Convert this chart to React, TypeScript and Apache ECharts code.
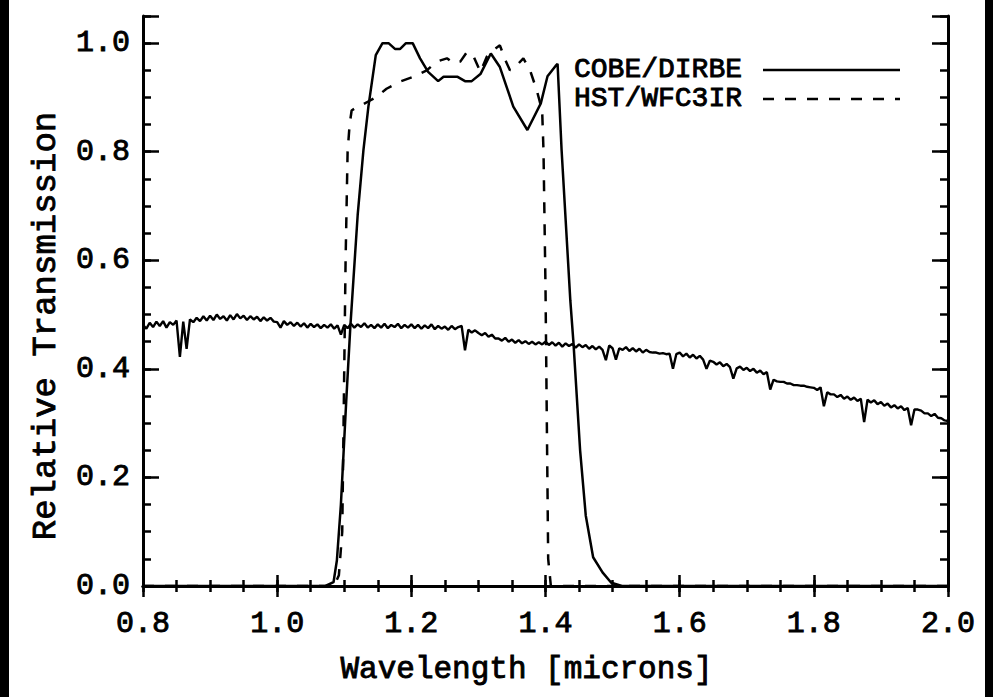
import React, { useEffect, useRef } from "react";
import * as echarts from "echarts";

// Sky spectrum (solid, noisy) sampled every 0.005 micron from 0.80 to 2.00
const specStart = 0.8;
const specStep = 0.005;
const specFlux = [
  0.481, 0.474, 0.485, 0.477, 0.487, 0.479, 0.488, 0.476, 0.486, 0.481, 0.489, 0.422, 0.487, 0.437, 0.491, 0.486, 0.494, 0.488, 0.497, 0.489,
  0.498, 0.490, 0.500, 0.492, 0.497, 0.489, 0.499, 0.491, 0.501, 0.493, 0.498, 0.490, 0.497, 0.491, 0.496, 0.488, 0.495, 0.489, 0.494, 0.487,
  0.486, 0.476, 0.488, 0.481, 0.486, 0.479, 0.485, 0.478, 0.484, 0.476, 0.483, 0.477, 0.482, 0.475, 0.481, 0.476, 0.482, 0.474, 0.480, 0.463,
  0.481, 0.475, 0.483, 0.476, 0.482, 0.477, 0.484, 0.476, 0.481, 0.475, 0.482, 0.476, 0.483, 0.475, 0.481, 0.477, 0.483, 0.475, 0.481, 0.476,
  0.482, 0.475, 0.481, 0.474, 0.480, 0.475, 0.482, 0.473, 0.479, 0.474, 0.478, 0.472, 0.479, 0.473, 0.477, 0.479, 0.434, 0.472, 0.467, 0.471,
  0.466, 0.462, 0.466, 0.459, 0.463, 0.456, 0.456, 0.452, 0.457, 0.450, 0.454, 0.448, 0.453, 0.447, 0.451, 0.446, 0.450, 0.445, 0.449, 0.445,
  0.450, 0.444, 0.449, 0.443, 0.448, 0.441, 0.447, 0.442, 0.446, 0.439, 0.445, 0.440, 0.444, 0.437, 0.442, 0.436, 0.441, 0.435, 0.416, 0.443,
  0.438, 0.417, 0.438, 0.435, 0.440, 0.433, 0.438, 0.432, 0.437, 0.430, 0.435, 0.431, 0.430, 0.430, 0.428, 0.429, 0.427, 0.428, 0.400, 0.427,
  0.430, 0.423, 0.428, 0.421, 0.426, 0.419, 0.424, 0.417, 0.400, 0.415, 0.413, 0.408, 0.412, 0.405, 0.409, 0.403, 0.382, 0.401, 0.404, 0.398,
  0.402, 0.396, 0.400, 0.393, 0.397, 0.390, 0.394, 0.362, 0.380, 0.377, 0.376, 0.376, 0.373, 0.373, 0.370, 0.370, 0.369, 0.369, 0.367, 0.366,
  0.365, 0.361, 0.366, 0.331, 0.357, 0.353, 0.353, 0.348, 0.352, 0.345, 0.349, 0.343, 0.347, 0.341, 0.345, 0.302, 0.343, 0.338, 0.342, 0.335,
  0.339, 0.332, 0.336, 0.329, 0.333, 0.327, 0.331, 0.324, 0.328, 0.296, 0.325, 0.325, 0.323, 0.318, 0.318, 0.313, 0.317, 0.310, 0.309, 0.305,
  0.304,
];

// COBE/DIRBE filter (solid)
const cobeWave = [0.8, 1.072, 1.084, 1.089, 1.095, 1.103, 1.109, 1.1136, 1.12, 1.1286, 1.136, 1.147, 1.157, 1.166, 1.176, 1.183, 1.192, 1.202, 1.213, 1.225, 1.24, 1.248, 1.269, 1.28, 1.29, 1.303, 1.3185, 1.332, 1.352, 1.373, 1.393, 1.403, 1.415, 1.418, 1.424, 1.437, 1.4418, 1.4516, 1.46, 1.471, 1.485, 1.498, 1.514, 2.0];
const cobeTrans = [0, 0, 0.007, 0.047, 0.15, 0.342, 0.476, 0.563, 0.683, 0.803, 0.883, 0.978, 1.0, 1.0, 0.989, 0.989, 1.0, 1.0, 0.972, 0.947, 0.93, 0.938, 0.938, 0.93, 0.93, 0.943, 0.981, 0.956, 0.883, 0.84, 0.889, 0.939, 0.958, 0.962, 0.803, 0.526, 0.446, 0.25, 0.13, 0.053, 0.025, 0.006, 0, 0];

// HST/WFC3IR filter (dashed)
const hstWave = [0.8, 1.085, 1.092, 1.097, 1.099, 1.1005, 1.102, 1.105, 1.108, 1.111, 1.116, 1.125, 1.135, 1.148, 1.163, 1.183, 1.203, 1.223, 1.238, 1.253, 1.263, 1.273, 1.283, 1.293, 1.303, 1.3125, 1.322, 1.332, 1.34, 1.347, 1.357, 1.367, 1.377, 1.387, 1.395, 1.397, 1.4, 1.402, 1.404, 1.408, 2.0];
const hstTrans = [0, 0, 0.02, 0.1, 0.3, 0.45, 0.6, 0.8, 0.85, 0.876, 0.88, 0.885, 0.892, 0.901, 0.916, 0.929, 0.938, 0.95, 0.966, 0.972, 0.963, 0.966, 0.984, 0.975, 0.947, 0.975, 0.987, 0.996, 0.969, 0.95, 0.959, 0.972, 0.95, 0.913, 0.876, 0.803, 0.55, 0.3, 0.05, 0, 0];

const legendNames = ["COBE/DIRBE", "HST/WFC3IR"];
const xTitle = "Wavelength [microns]";
const yTitle = "Relative Transmission";

const FONT = '"Liberation Mono", monospace';

export default function App() {
  const ref = useRef<HTMLDivElement>(null);
  useEffect(() => {
    if (!ref.current) return;
    const chart = echarts.init(ref.current, null, { renderer: "svg" });
    const spec = specFlux.map((v, i) => [+(specStart + i * specStep).toFixed(3), v]);
    const cobe = cobeWave.map((w, i) => [w, cobeTrans[i]]);
    const hst = hstWave.map((w, i) => [w, hstTrans[i]]);

    const txt = { fontFamily: FONT, color: "#000", textBorderColor: "#000", textBorderWidth: 0.9 };
    const lbl = { ...txt, fontSize: 30 };
    const line = { show: true, lineStyle: { color: "#000", width: 3 } };
    const xBase = { type: "value" as const, min: 0.8, max: 2.0, splitLine: { show: false }, gridIndex: 0 };
    const yBase = { type: "value" as const, min: 0, max: 1.05, splitLine: { show: false }, gridIndex: 0 };
    const tick = (len: number) => ({ show: true, inside: true, length: len, lineStyle: { color: "#000", width: 2.5 } });

    chart.setOption({
      animation: false,
      backgroundColor: "transparent",
      grid: { left: 143, top: 16, width: 805, height: 570, containLabel: false },
      xAxis: [
        {
          ...xBase, position: "bottom", interval: 0.2, axisLine: line, axisTick: tick(11),
          axisLabel: { ...lbl, margin: 23, formatter: (v: number) => v.toFixed(1) },
          name: xTitle, nameLocation: "middle", nameGap: 68,
          nameTextStyle: { ...txt, fontSize: 31, padding: [0, 38, 0, 0] },
        },
        { ...xBase, position: "bottom", interval: 0.05, axisLine: { show: false }, axisTick: tick(6), axisLabel: { show: false } },
        { ...xBase, position: "top", interval: 0.2, axisLine: line, axisTick: tick(11), axisLabel: { show: false } },
        { ...xBase, position: "top", interval: 0.05, axisLine: { show: false }, axisTick: tick(6), axisLabel: { show: false } },
      ],
      yAxis: [
        {
          ...yBase, position: "left", interval: 0.2, axisLine: line, axisTick: tick(16),
          axisLabel: { ...lbl, margin: 13, formatter: (v: number) => (v > 1.01 ? "" : v.toFixed(1)) },
          name: yTitle, nameLocation: "middle", nameGap: 80,
          nameTextStyle: { ...txt, fontSize: 34, padding: [0, 50, 0, 0] },
        },
        { ...yBase, position: "left", interval: 0.05, axisLine: { show: false }, axisTick: tick(8), axisLabel: { show: false } },
        { ...yBase, position: "right", interval: 0.2, axisLine: line, axisTick: tick(16), axisLabel: { show: false } },
        { ...yBase, position: "right", interval: 0.05, axisLine: { show: false }, axisTick: tick(8), axisLabel: { show: false } },
      ],
      series: [
        { name: "spectrum", type: "line", data: spec, symbol: "none", lineStyle: { color: "#000", width: 2.4 }, silent: true },
        { name: legendNames[0], type: "line", data: cobe, symbol: "none", lineStyle: { color: "#000", width: 2.5 }, silent: true },
        { name: legendNames[1], type: "line", data: hst, symbol: "none", lineStyle: { color: "#000", width: 2.5, type: [11, 11] }, silent: true },
      ],
      graphic: [
        { type: "text", x: 742, y: 69, style: { text: legendNames[0], fill: "#000", stroke: "#000", lineWidth: 0.9, fontFamily: FONT, fontSize: 28, align: "right", verticalAlign: "middle" } },
        { type: "text", x: 742, y: 98, style: { text: legendNames[1], fill: "#000", stroke: "#000", lineWidth: 0.9, fontFamily: FONT, fontSize: 28, align: "right", verticalAlign: "middle" } },
        { type: "line", shape: { x1: 763, y1: 70, x2: 900, y2: 70 }, style: { stroke: "#000", lineWidth: 2.5 } },
        { type: "line", shape: { x1: 763, y1: 99, x2: 900, y2: 99 }, style: { stroke: "#000", lineWidth: 2.5, lineDash: [11, 11] } },
      ],
    });
    return () => chart.dispose();
  }, []);

  return (
    <div style={{ position: "fixed", left: 0, top: 0, width: 993, height: 697, background: "#000" }}>
      <div style={{ position: "absolute", left: 9, top: 0, width: 976, height: 697, background: "#fff" }} />
      <div ref={ref} style={{ position: "absolute", left: 0, top: 0, width: 993, height: 697 }} />
    </div>
  );
}
